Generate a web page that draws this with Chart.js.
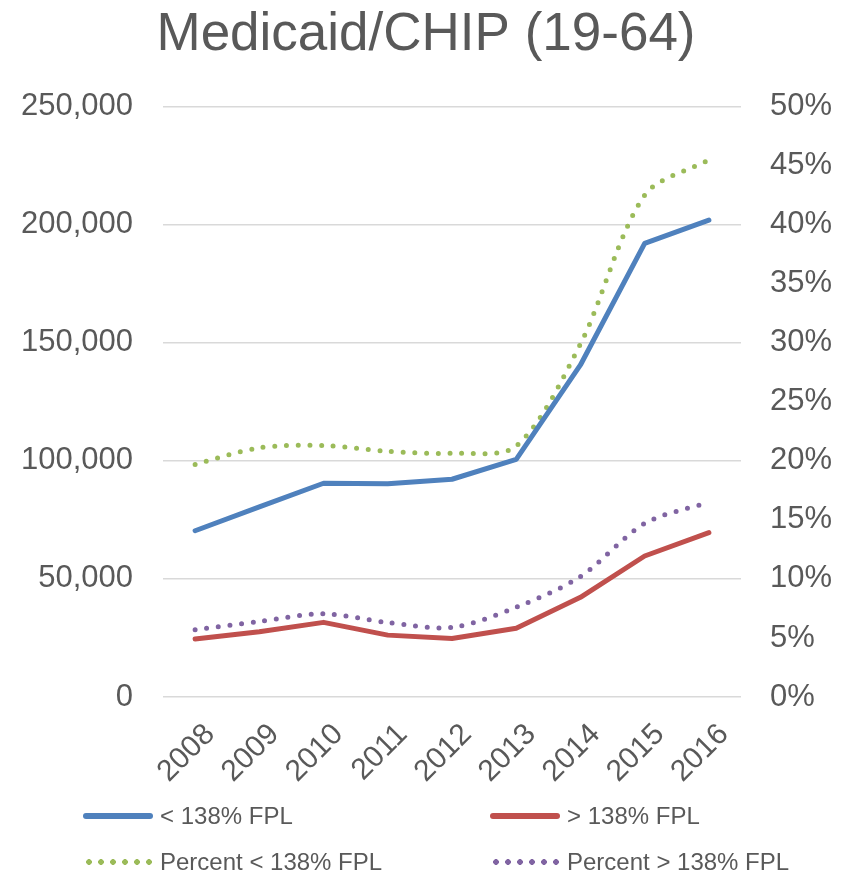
<!DOCTYPE html>
<html>
<head>
<meta charset="utf-8">
<script src="https://cdn.jsdelivr.net/npm/chart.js@4"></script>
<style>
  body { margin: 0; background: #fff; }
  #wrap { position: relative; width: 852px; height: 877px; }
  .leg { position: absolute; font: 24px "Liberation Sans", Arial, sans-serif; color: #595959; height: 30px; line-height: 30px; }
  .leg span { position: absolute; left: 0; }
  .leg label { position: absolute; left: 77px; white-space: nowrap; }
  .solid { top: 12px; width: 70px; height: 6px; border-radius: 3px; }
  .dots { top: 12px; width: 72px; height: 6px; background-size: 12px 6px; }
</style>
</head>
<body>
<div id="wrap">
  <canvas id="myChart" width="852" height="877"></canvas>
  <div class="leg" style="left:83px; top:801px;"><span class="solid" style="background:#4f81bd"></span><label>&lt; 138% FPL</label></div>
  <div class="leg" style="left:490px; top:801px;"><span class="solid" style="background:#c0504d"></span><label>&gt; 138% FPL</label></div>
  <div class="leg" style="left:83px; top:847px;"><span class="dots" style="background-image:radial-gradient(circle, #9bbb59 2.6px, transparent 3.1px)"></span><label>Percent &lt; 138% FPL</label></div>
  <div class="leg" style="left:490px; top:847px;"><span class="dots" style="background-image:radial-gradient(circle, #8064a2 2.6px, transparent 3.1px)"></span><label>Percent &gt; 138% FPL</label></div>
</div>
<script>
const years = ['2008', '2009', '2010', '2011', '2012', '2013', '2014', '2015', '2016']
const below138 = [70400, 80500, 90500, 90300, 92200, 100600, 140600, 192100, 201900]
const above138 = [24600, 27600, 31600, 26200, 24800, 29100, 42200, 59700, 69600]
const pctBelow138 = [19.7, 21.1, 21.3, 20.8, 20.65, 21.25, 29.9, 42.5, 45.5]
const pctAbove138 = [5.7, 6.4, 7.05, 6.3, 5.9, 7.6, 10.2, 14.7, 16.5]

const gray = '#595959'
const fontFam = '"Liberation Sans", Arial, sans-serif'

const config = {
    type: 'line',
    data: {
        labels: years,
        datasets: [
            {
                label: '< 138% FPL',
                data: below138,
                borderColor: '#4f81bd',
                borderWidth: 5,
                borderCapStyle: 'round',
                borderJoinStyle: 'round',
                pointRadius: 0,
                tension: 0,
                yAxisID: 'y'
            },
            {
                label: '> 138% FPL',
                data: above138,
                borderColor: '#c0504d',
                borderWidth: 5,
                borderCapStyle: 'round',
                borderJoinStyle: 'round',
                pointRadius: 0,
                tension: 0,
                yAxisID: 'y'
            },
            {
                label: 'Percent < 138% FPL',
                data: pctBelow138,
                borderColor: '#9bbb59',
                borderWidth: 5,
                borderDash: [0, 11.7],
                borderCapStyle: 'round',
                pointRadius: 0,
                tension: 0.3,
                yAxisID: 'y1'
            },
            {
                label: 'Percent > 138% FPL',
                data: pctAbove138,
                borderColor: '#8064a2',
                borderWidth: 5,
                borderDash: [0, 11.7],
                borderCapStyle: 'round',
                pointRadius: 0,
                tension: 0.3,
                yAxisID: 'y1'
            }
        ]
    },
    options: {
        responsive: false,
        animation: false,
        layout: { padding: 0 },
        plugins: {
            legend: { display: false },
            tooltip: { enabled: false },
            title: {
                display: true,
                text: 'Medicaid/CHIP (19-64)',
                color: gray,
                font: { family: fontFam, size: 53, weight: 'normal', lineHeight: 1.2 },
                padding: { top: 4, bottom: 39 }
            }
        },
        scales: {
            x: {
                offset: true,
                grid: { display: false },
                border: { display: false },
                ticks: {
                    color: gray,
                    font: { family: fontFam, size: 30 },
                    maxRotation: 45,
                    minRotation: 45,
                    labelOffset: 15,
                    padding: 12
                },
                afterFit: function(scale) { scale.height = 180 }
            },
            y: {
                position: 'left',
                min: 0,
                max: 250000,
                grid: { color: '#d9d9d9', lineWidth: 1.5, drawTicks: false },
                border: { display: false },
                ticks: {
                    stepSize: 50000,
                    color: gray,
                    padding: 30,
                    font: { family: fontFam, size: 31 },
                    callback: function(v) { return v.toLocaleString('en-US') }
                },
                afterFit: function(scale) { scale.width = 163 }
            },
            y1: {
                position: 'right',
                min: 0,
                max: 50,
                grid: { drawOnChartArea: false, drawTicks: false },
                border: { display: false },
                ticks: {
                    stepSize: 5,
                    color: gray,
                    padding: 29,
                    font: { family: fontFam, size: 31 },
                    callback: function(v) { return v + '%' }
                },
                afterFit: function(scale) { scale.width = 111 }
            }
        }
    }
}

new Chart(document.getElementById('myChart'), config)
</script>
</body>
</html>
